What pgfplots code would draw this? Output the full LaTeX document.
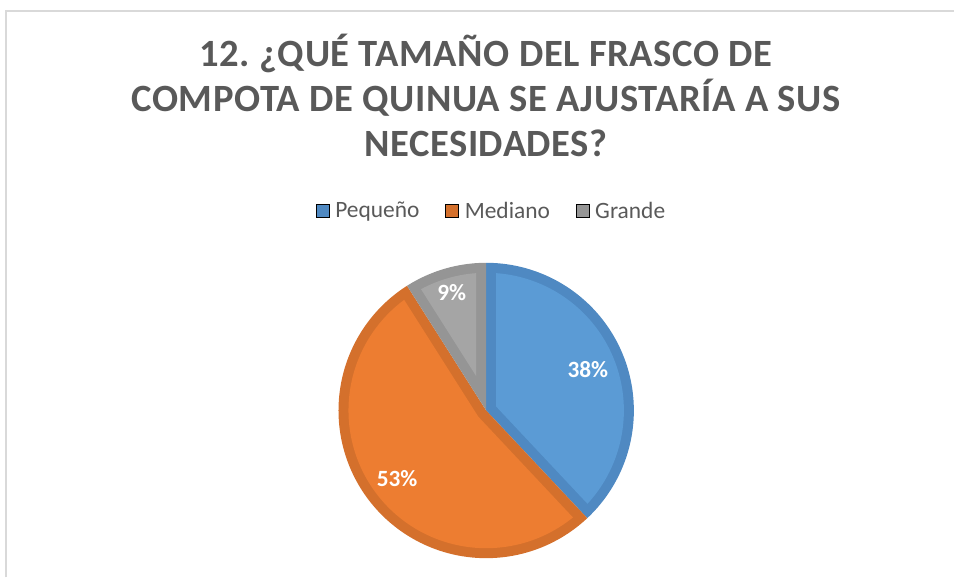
\documentclass[border=0pt]{standalone}
\usepackage{pgfplots}
\pgfplotsset{compat=1.18}
\usepgfplotslibrary{polar}
\usepackage{fontspec}
\setmainfont{Carlito}
\newfontfamily\titlefont[LetterSpace=1.5]{Carlito}
\frenchspacing
\definecolor{bfill}{HTML}{5B9BD5}
\definecolor{bline}{HTML}{4F89C2}
\definecolor{ofill}{HTML}{ED7D31}
\definecolor{oline}{HTML}{D4702C}
\definecolor{gfill}{HTML}{A5A5A5}
\definecolor{gline}{HTML}{959595}
\definecolor{txt}{HTML}{595959}
\definecolor{frame}{HTML}{D9D9D9}
\begin{document}
\begin{tikzpicture}
\path (0,0) rectangle (716.25pt,-433.5pt);
\draw[frame, line width=1.5pt] (4.5pt,-434pt) -- (4.5pt,-8.25pt) -- (717pt,-8.25pt);
\node[anchor=base, txt, font=\titlefont\bfseries\fontsize{29}{35}\selectfont] at (365.25pt,-50.25pt) {12. ¿QUÉ TAMAÑO DEL FRASCO DE};
\node[anchor=base, txt, font=\titlefont\bfseries\fontsize{29}{35}\selectfont] at (365.25pt,-84pt) {COMPOTA DE QUINUA SE AJUSTARÍA A SUS};
\node[anchor=base, txt, font=\titlefont\bfseries\fontsize{29}{35}\selectfont] at (365.25pt,-117.75pt) {NECESIDADES?};
\begin{polaraxis}[
  at={(365.4pt,-308.5pt)}, anchor=center,
  scale only axis, width=222pt, height=222pt,
  hide axis, clip=false,
  ymin=0, ymax=1, xmin=0, xmax=360,
  legend columns=-1,
  legend style={draw=none, fill=none, at={(0.515,1.1757)}, anchor=center,
    font=\fontsize{17.6}{20}\selectfont, text=txt,
    nodes={inner sep=0pt},
    /tikz/every odd column/.append style={column sep=4.5pt},
    /tikz/every even column/.append style={column sep=19.5pt}},
  legend image code/.code={\fill[#1] (0pt,-4.8pt) rectangle (9.6pt,4.8pt);},
]
\addlegendimage{fill=bline}
\addlegendentry{Pequeño}
\addlegendimage{fill=oline}
\addlegendentry{Mediano}
\addlegendimage{fill=gline}
\addlegendentry{Grande}
% Pequeno 38% : 90 -> -46.8
\addplot[forget plot, draw=none, fill=bline, domain=-46.8:90, samples=120] {1} -- (axis cs:0,0) -- cycle;
\addplot[forget plot, draw=none, fill=bfill, domain=-42.645:85.845, samples=120] {0.93243} -- (axis cs:21.6,0.07267) -- cycle;
% Mediano 53% : -46.8 -> -237.6
\addplot[forget plot, draw=none, fill=oline, domain=-237.6:-46.8, samples=160] {1} -- (axis cs:0,0) -- cycle;
\addplot[forget plot, draw=none, fill=ofill, domain=-233.445:-50.955, samples=160] {0.93243} -- (axis cs:-142.2,0.06787) -- cycle;
% Grande 9% : 90 -> 122.4
\addplot[forget plot, draw=none, fill=gline, domain=90:122.4, samples=40] {1} -- (axis cs:0,0) -- cycle;
\addplot[forget plot, draw=none, fill=gfill, domain=94.155:118.245, samples=40] {0.93243} -- (axis cs:106.2,0.2422) -- cycle;
\node[white, font=\bfseries\fontsize{17.5}{20}\selectfont] at (axis cs:22.0,0.743) {38\%};
\node[white, font=\bfseries\fontsize{17.5}{20}\selectfont] at (axis cs:-142.4,0.761) {53\%};
\node[white, font=\bfseries\fontsize{17.5}{20}\selectfont] at (axis cs:106.3,0.833) {9\%};
\end{polaraxis}
\end{tikzpicture}
\end{document}
